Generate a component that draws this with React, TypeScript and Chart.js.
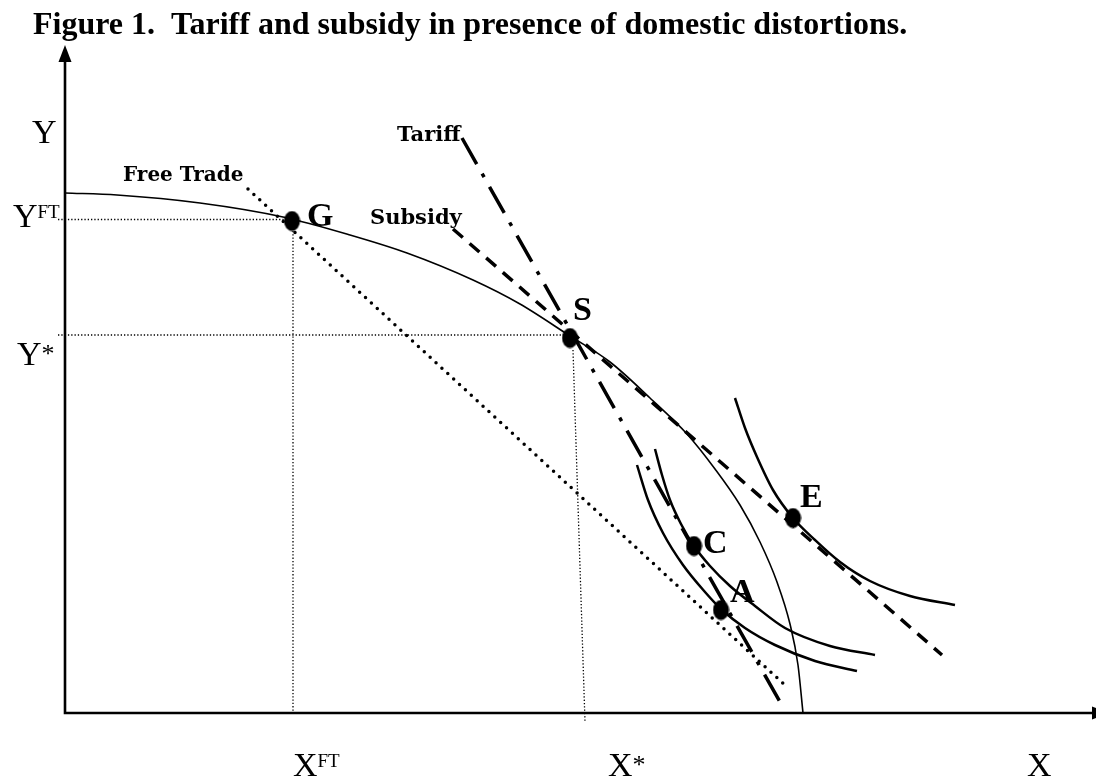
import { useEffect, useRef } from "react";
import { Chart, registerables } from "chart.js";
Chart.register(...registerables);

const TITLE = "Figure 1.  Tariff and subsidy in presence of domestic distortions.";

// production possibility frontier
const ppfX = [0, 5.2, 13.5, 21.8, 28.5, 34.2, 40.8, 45.5, 50.5, 54.5, 58.5, 62.2, 65.0, 67.5, 69.5, 71.2, 72.5, 73.3, 73.8];
const ppfY = [52.0, 51.8, 51.0, 49.6, 47.8, 46.0, 43.3, 40.9, 37.7, 35.1, 31.5, 27.9, 24.4, 20.8, 17.1, 13.1, 8.9, 4.8, 0];

// price lines
const freeTradeX = [18.3, 72.2];
const freeTradeY = [52.4, 2.6];
const tariffX = [39.7, 71.5];
const tariffY = [57.5, 1.1];
const subsidyX = [38.8, 87.7];
const subsidyY = [48.4, 5.8];

// indifference curves
const icAX = [57.2, 58.3, 59.8, 61.8, 64.0, 65.6, 68.0, 71.0, 75.0, 79.2];
const icAY = [24.8, 21.3, 18.0, 14.8, 12.1, 10.4, 8.5, 6.8, 5.2, 4.2];
const icCX = [59.0, 59.7, 60.5, 61.6, 62.9, 64.5, 66.5, 69.0, 72.0, 76.5, 81.0];
const icCY = [26.4, 23.8, 21.3, 18.9, 16.7, 14.7, 12.7, 10.7, 8.5, 6.7, 5.8];
const icEX = [67.0, 68.0, 69.2, 70.8, 72.8, 75.0, 77.5, 80.5, 84.5, 89.0];
const icEY = [31.5, 28.5, 25.6, 22.3, 19.5, 17.3, 15.1, 13.2, 11.7, 10.8];

// equilibrium points
const pointNames = ["G", "S", "E", "C", "A"];
const pointX = [22.7, 50.5, 72.8, 62.9, 65.6];
const pointY = [49.2, 37.5, 19.5, 16.7, 10.3];

// guide values
const yFT = 49.35;
const yStar = 37.8;
const xFT = 22.8;
const xStarX = [50.8, 52.0];
const xStarY = [36.3, -0.9];
const guideStart = -0.7;

// axes
const axisYTop = 66.8;
const axisXEnd = 104.4;

const line = (xs: number[], ys: number[]) => xs.map((x, i) => ({ x, y: ys[i] }));

function makeDot() {
  const c = document.createElement("canvas");
  c.width = 17;
  c.height = 21;
  const g = c.getContext("2d")!;
  g.fillStyle = "#000";
  g.beginPath();
  g.ellipse(8.5, 10.5, 8, 10, 0, 0, Math.PI * 2);
  g.fill();
  return c;
}

export default function App() {
  const ref = useRef<HTMLCanvasElement>(null);
  useEffect(() => {
    const canvas = ref.current!;
    const dot = makeDot();

    const drawPlugin = {
      id: "figureDecor",
      afterDatasetsDraw(chart: any) {
        const { ctx, scales } = chart;
        const px = (v: number) => scales.x.getPixelForValue(v);
        const py = (v: number) => scales.y.getPixelForValue(v);
        ctx.save();
        ctx.fillStyle = "#000";
        ctx.strokeStyle = "#000";
        // axes
        ctx.lineWidth = 2.6;
        ctx.beginPath();
        ctx.moveTo(px(0), py(0));
        ctx.lineTo(px(0), py(axisYTop) + 12);
        ctx.moveTo(px(0) - 1.3, py(0));
        ctx.lineTo(px(axisXEnd) - 12, py(0));
        ctx.stroke();
        // arrowheads
        const ax = px(0), ay = py(axisYTop);
        ctx.beginPath();
        ctx.moveTo(ax, ay);
        ctx.lineTo(ax - 6.5, ay + 17);
        ctx.lineTo(ax + 6.5, ay + 17);
        ctx.closePath();
        ctx.fill();
        const bx = px(axisXEnd), by = py(0);
        ctx.beginPath();
        ctx.moveTo(bx, by);
        ctx.lineTo(bx - 17, by - 6.5);
        ctx.lineTo(bx - 17, by + 6.5);
        ctx.closePath();
        ctx.fill();

        ctx.textBaseline = "alphabetic";
        ctx.textAlign = "left";
        // title
        ctx.font = "bold 32px 'Liberation Serif'";
        ctx.fillText(TITLE, 33, 34);

        // point labels
        const offs: Record<string, [number, number]> = {
          G: [15, 5], S: [3, -18], E: [7, -11], C: [9, 7], A: [9, -8],
        };
        ctx.font = "bold 34px 'Liberation Serif'";
        pointNames.forEach((n, i) => {
          const o = offs[n];
          ctx.fillText(n, px(pointX[i]) + o[0], py(pointY[i]) + o[1]);
        });

        // line labels
        ctx.font = "bold 20px 'DejaVu Serif'";
        ctx.fillText("Free Trade", px(freeTradeX[0]) - 125, py(freeTradeY[0]) - 8);
        ctx.font = "bold 21px 'DejaVu Serif'";
        ctx.fillText("Tariff", px(tariffX[0]) - 65, py(tariffY[0]) + 3);
        ctx.fillText("Subsidy", px(subsidyX[0]) - 83, py(subsidyY[0]) - 5);

        // axis labels
        const big = "34px 'Liberation Serif'";
        const drawLab = (main: string, sup: string, left: number, base: number) => {
          ctx.font = big;
          ctx.fillText(main, left, base);
          const w = ctx.measureText(main).width;
          if (sup === "*") {
            ctx.font = "26px 'Liberation Serif'";
            ctx.fillText(sup, left + w, base - 3);
          } else if (sup) {
            ctx.font = "19px 'Liberation Serif'";
            ctx.fillText(sup, left + w, base - 9);
          }
        };
        drawLab("Y", "", px(0) - 33, py(axisYTop) + 98);
        drawLab("Y", "FT", px(0) - 52, py(yFT) + 7);
        drawLab("Y", "*", px(0) - 48, py(yStar) + 30);
        drawLab("X", "FT", px(xFT), py(0) + 63);
        drawLab("X", "*", px(xStarX[1]) + 23, py(0) + 63);
        drawLab("X", "", px(axisXEnd) - 82, py(0) + 63);
        ctx.restore();
      },
    };

    const base = { pointRadius: 0, borderColor: "#000", fill: false, showLine: true };
    const chart = new Chart(canvas, {
      type: "scatter",
      data: {
        datasets: [
          { ...base, data: line([guideStart, pointX[0]], [yFT, yFT]), borderWidth: 1.3, borderDash: [1.3, 2] },
          { ...base, data: line([guideStart, pointX[1]], [yStar, yStar]), borderWidth: 1.3, borderDash: [1.3, 2] },
          { ...base, data: line([xFT, xFT], [pointY[0], 0]), borderWidth: 1.3, borderDash: [1.3, 2] },
          { ...base, data: line(xStarX, xStarY), borderWidth: 1.3, borderDash: [1.3, 2] },
          { ...base, data: line(ppfX, ppfY), borderWidth: 1.6, cubicInterpolationMode: "monotone" },
          { ...base, data: line(freeTradeX, freeTradeY), borderWidth: 3.5, borderDash: [0, 8], borderCapStyle: "round" },
          { ...base, data: line(tariffX, tariffY), borderWidth: 3.5, borderDash: [30, 11, 4, 11] },
          { ...base, data: line(subsidyX, subsidyY), borderWidth: 3.5, borderDash: [13, 9] },
          { ...base, data: line(icAX, icAY), borderWidth: 2.5, cubicInterpolationMode: "monotone" },
          { ...base, data: line(icCX, icCY), borderWidth: 2.5, cubicInterpolationMode: "monotone" },
          { ...base, data: line(icEX, icEY), borderWidth: 2.5, cubicInterpolationMode: "monotone" },
          {
            data: line(pointX, pointY),
            showLine: false,
            pointStyle: dot as any,
            pointRadius: 9,
            backgroundColor: "#000",
            borderColor: "#000",
          },
        ] as any,
      },
      options: {
        animation: false,
        responsive: false,
        events: [],
        layout: { padding: 0, autoPadding: false },
        plugins: { legend: { display: false }, tooltip: { enabled: false }, title: { display: false } },
        scales: {
          x: { type: "linear", display: false, min: -6.5, max: 103.1 },
          y: { type: "linear", display: false, min: -6.5, max: 71.3 },
        },
      },
      plugins: [drawPlugin],
    });
    return () => chart.destroy();
  }, []);

  return (
    <div style={{ position: "fixed", left: 0, top: 0, width: 1096, height: 778, background: "#fff" }}>
      <canvas ref={ref} width={1096} height={778} style={{ display: "block" }} />
    </div>
  );
}
